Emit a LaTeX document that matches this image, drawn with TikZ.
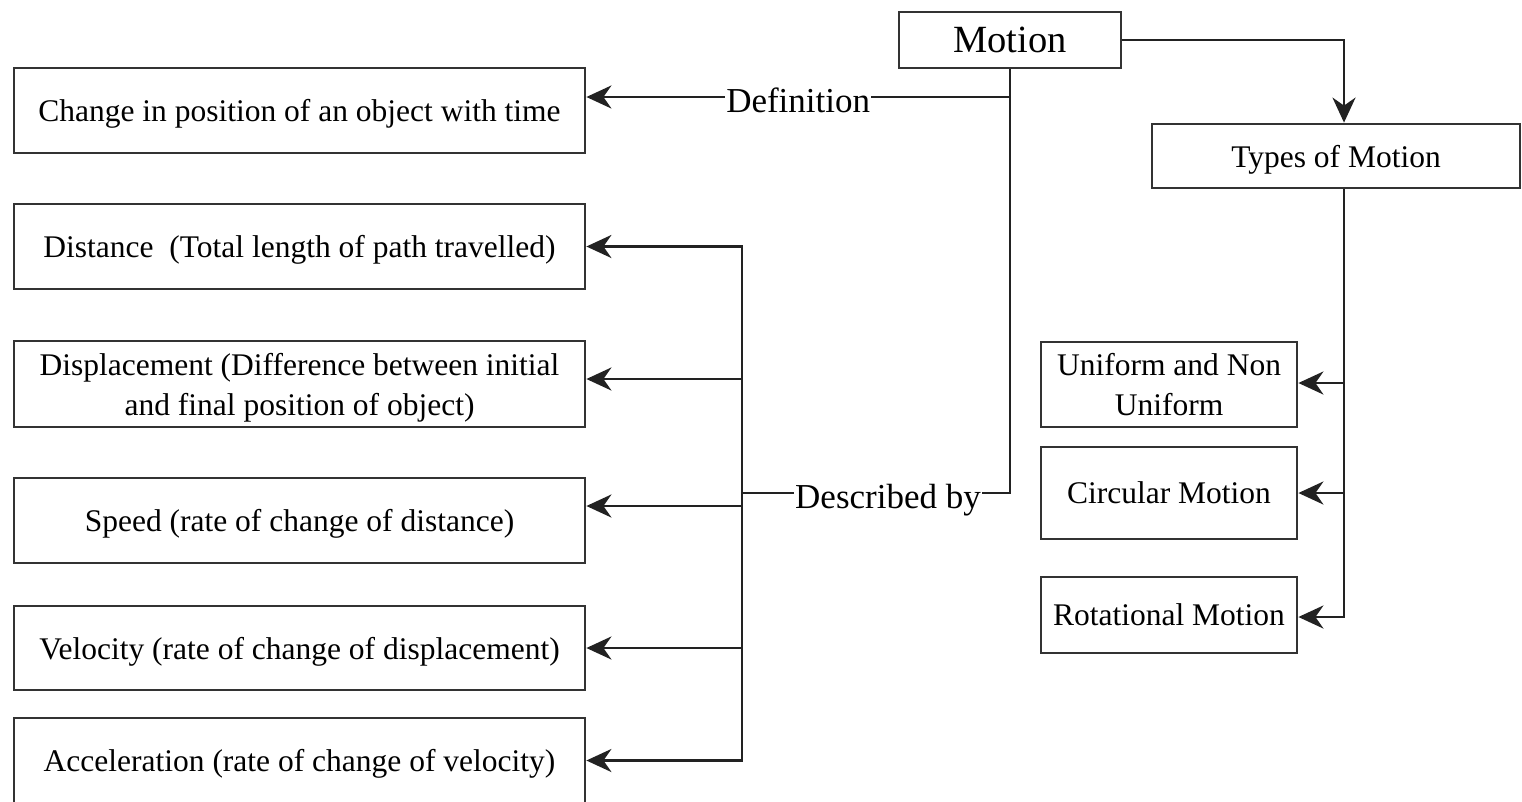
\documentclass[tikz,border=0pt]{standalone}
\usepackage{fontspec}
\setmainfont{Liberation Serif}
\usetikzlibrary{arrows.meta}
\definecolor{ink}{HTML}{222222}
\definecolor{edge}{HTML}{333333}
\tikzset{
  box/.style={draw=edge, line width=2.8pt, fill=white, inner sep=0pt, align=center,
    text=black, text depth=0pt, font=\fontsize{31.5}{40}\selectfont},
  leftbox/.style={box, minimum width=571pt, minimum height=85pt},
  rightbox/.style={box, minimum width=256pt},
  wire/.style={draw=ink, line width=2.8pt},
  arr/.style={wire, -{Stealth[length=25pt, width=23pt, inset=8pt]}},
  lbl/.style={fill=white, inner sep=1pt, text=black, text depth=0pt, yshift=-3pt,
    font=\fontsize{35}{38}\selectfont},
}
\begin{document}
\begin{tikzpicture}[x=1pt, y=-1pt]
  \useasboundingbox (0,0) rectangle (1522,801);
  \fill[white] (0,0) rectangle (1522,801);

  % top nodes
  \node[box, minimum width=222pt, minimum height=56pt, font=\fontsize{38.5}{42}\selectfont]
    (motion) at (1010,40) {Motion};
  \node[box, minimum width=368pt, minimum height=64pt] (types) at (1336,156) {Types of Motion};

  % left column
  \node[leftbox] (chg)   at (299.5,110.5) {Change in position of an object with time};
  \node[leftbox] (dist)  at (299.5,246.5) {Distance\ \ (Total length of path travelled)};
  \node[leftbox, minimum height=86pt] (disp) at (299.5,384)
    {Displacement (Difference between initial\\and final position of object)};
  \node[leftbox] (speed) at (299.5,520.5) {Speed (rate of change of distance)};
  \node[leftbox, minimum height=84pt] (vel) at (299.5,648) {Velocity (rate of change of displacement)};
  \node[leftbox] (acc)   at (299.5,760.5) {Acceleration (rate of change of velocity)};

  % right column
  \node[rightbox, minimum height=85pt] (unif) at (1169,384.5) {Uniform and Non\\Uniform};
  \node[rightbox, minimum height=92pt] (circ) at (1169,493) {Circular Motion};
  \node[rightbox, minimum height=76pt] (rot)  at (1169,615) {Rotational Motion};

  % junction on the left bus
  \coordinate (bus) at (742,493);

  % definition branch
  \draw[arr] (motion.south) |- node[lbl, pos=0.75] {Definition} ([yshift=13.5pt]chg.east);

  % described-by branch
  \draw[wire] (motion.south) |- node[lbl, pos=0.75, xshift=12pt] {Described by} (bus);
  \draw[arr] (bus) |- (dist.east);
  \draw[arr] (bus) |- ([yshift=5pt]disp.east);
  \draw[arr] (bus) |- ([yshift=14.5pt]speed.east);
  \draw[arr] (bus) |- (vel.east);
  \draw[arr] (bus) |- (acc.east);

  % types branch
  \draw[arr] (motion.east) -| ([xshift=8pt]types.north);
  \draw[arr] ([xshift=8pt]types.south) |- ([yshift=1.5pt]unif.east);
  \draw[arr] ([xshift=8pt]types.south) |- (circ.east);
  \draw[arr] ([xshift=8pt]types.south) |- ([yshift=-2pt]rot.east);
\end{tikzpicture}
\end{document}
